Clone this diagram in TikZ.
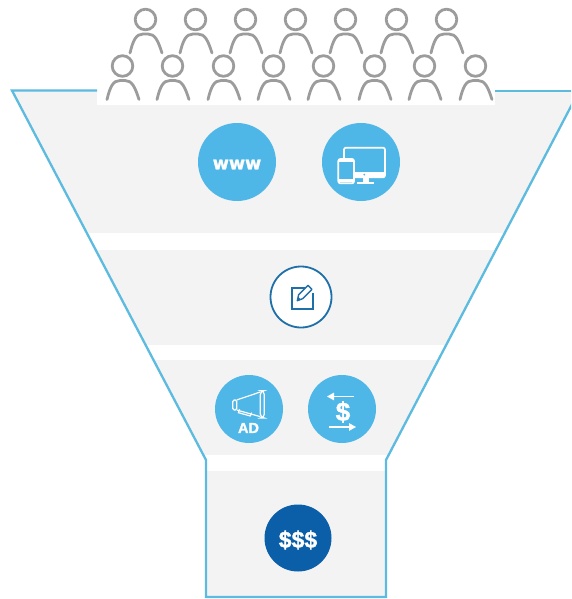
\documentclass[tikz,border=0pt]{standalone}
\usepackage{fontspec}
\setmainfont{Liberation Sans}
\newfontfamily\widefont[BoldFeatures={FakeBold=1.5}]{DejaVu Sans}
\newfontfamily\heavyfont[BoldFeatures={FakeBold=1.5}]{Liberation Sans}
\usetikzlibrary{arrows.meta}
\definecolor{band}{HTML}{F3F3F3}
\definecolor{outl}{HTML}{5DBBE0}
\definecolor{sky}{HTML}{4FB7E8}
\definecolor{navy}{HTML}{0B5EA8}
\definecolor{ink}{HTML}{1F6FA8}
\definecolor{pers}{HTML}{9C9C9C}
\tikzset{
  personfig/.pic={
    \draw[pers,line width=2.8pt] (0.5,0) circle (10.3);
    \draw[pers,line width=2.8pt,line cap=round] (-15,33.5) .. controls (-12,21) and (-9,14.5) .. (-2,14.5) -- (3,14.5) .. controls (10,14.5) and (13,21) .. (17,33.5);
  },
  disc/.style={circle,inner sep=0pt,minimum size=#1,fill=sky},
  lbl/.style={text=white,inner sep=0pt},
  icon/.style={white,line width=1.7pt,line join=round},
  third/.style={x=0.3333pt,y=-0.3333pt}
}
\begin{document}
\begin{tikzpicture}[x=1pt,y=-1pt]
\useasboundingbox (0,0) rectangle (571,599);
\clip (0,0) rectangle (571,599);
\fill[white] (0,0) rectangle (571,599);
% funnel body
\fill[band] (12,90) -- (206,460) -- (206,597) -- (386,597) -- (386,460) -- (579,91) -- cycle;
\fill[white] (97,0) rectangle (495,105.5);
\foreach \a/\b in {233/250,344.5/360,455/471}
  \fill[white] (0,\a) rectangle (571,\b);
% outline
\draw[outl,line width=2.3pt,line join=miter] (97,90.5) -- (12,90.5) -- (206,460) -- (206,597) -- (386,597) -- (386,460) -- (579,91);
\draw[outl,line width=2.3pt] (495,91) -- (571,91);
% people
\foreach \x in {145,195,245,295,345,396,446}
  \pic at (\x,19.5) {personfig};
\foreach \x in {122,172,223,273,323,374,424,475}
  \pic at (\x,66) {personfig};
% www
\node[disc=78pt] (www) at (237,162) {};
\node[lbl,font=\widefont\bfseries\fontsize{17.5}{17.5}\selectfont] (wwwt) at (237,164.5) {www};
% devices
\node[disc=78pt] (dev) at (361,162) {};
\begin{scope}[shift={(190,115)},third]
  \draw[icon] (462,132) -- (462,103) [rounded corners=2pt] -- (462,98) -- (585,98) -- (585,187) -- (492,187);
  \fill[white] (492,172) rectangle (585,187);
  \fill[sky] (523,179) circle (3);
  \fill[white] (519,187) rectangle (536,203);
  \fill[white] (502,201) rectangle (553,207);
  \draw[icon,rounded corners=2pt] (445,132) rectangle (492,205);
  \fill[white] (445,136) rectangle (492,142);
  \fill[white] (445,193) rectangle (492,201);
\end{scope}
% edit
\node[circle,draw=ink,fill=white,line width=1.8pt,inner sep=0pt,minimum size=61pt] (edit) at (301,297) {};
\begin{scope}[shift={(200,260)},third]
  \draw[ink,line width=1.7pt] (316,85) -- (275,85) -- (275,148) -- (338,148) -- (338,100);
  \draw[ink,line width=1.4pt,line join=round] (292,122) -- (296,104) -- (324,76) -- (336,88) -- (308,116) -- cycle;
  \fill[ink] (292,122) -- (294,110) -- (303,119) -- cycle;
\end{scope}
% AD
\node[disc=68pt] (ad) at (249,409) {};
\begin{scope}[shift={(200,260)},third]
  \draw[white,line width=1.2pt,line join=round] (110,420) -- (181,396) (110,450) -- (181,470);
  \draw[white,line width=1.2pt,rounded corners=1.5pt] (98,420) rectangle (110,450);
  \draw[white,line width=1.2pt,rounded corners=4pt] (181,392) rectangle (193,474);
  \draw[white,line width=1.2pt,line join=round] (119,448) -- (115,458) -- (151,468) -- (155,458);
\end{scope}
\node[lbl,font=\heavyfont\bfseries\fontsize{14.5}{14.5}\selectfont] (adt) at (248.5,428) {AD};
% transfer
\node[disc=68pt] (tr) at (342,409) {};
\node[lbl,font=\heavyfont\bfseries\fontsize{26}{26}\selectfont] (dollar) at (343,412) {\$};
\coordinate (ta) at (354,396.5);
\coordinate (tb) at (327,396.5);
\coordinate (tc) at (329,427);
\coordinate (td) at (356,427);
\draw[white,line width=1.2pt,-{Triangle[length=7pt,width=7.5pt]}] (ta) -- (tb);
\draw[white,line width=1.2pt,-{Triangle[length=7pt,width=7.5pt]}] (tc) -- (td);
% money
\node[disc=67pt,fill=navy] (money) at (298,538) {};
\node[lbl,font=\heavyfont\bfseries\fontsize{23}{23}\selectfont] (moneyt) at (298,540) {\$\$\$};
\end{tikzpicture}
\end{document}
